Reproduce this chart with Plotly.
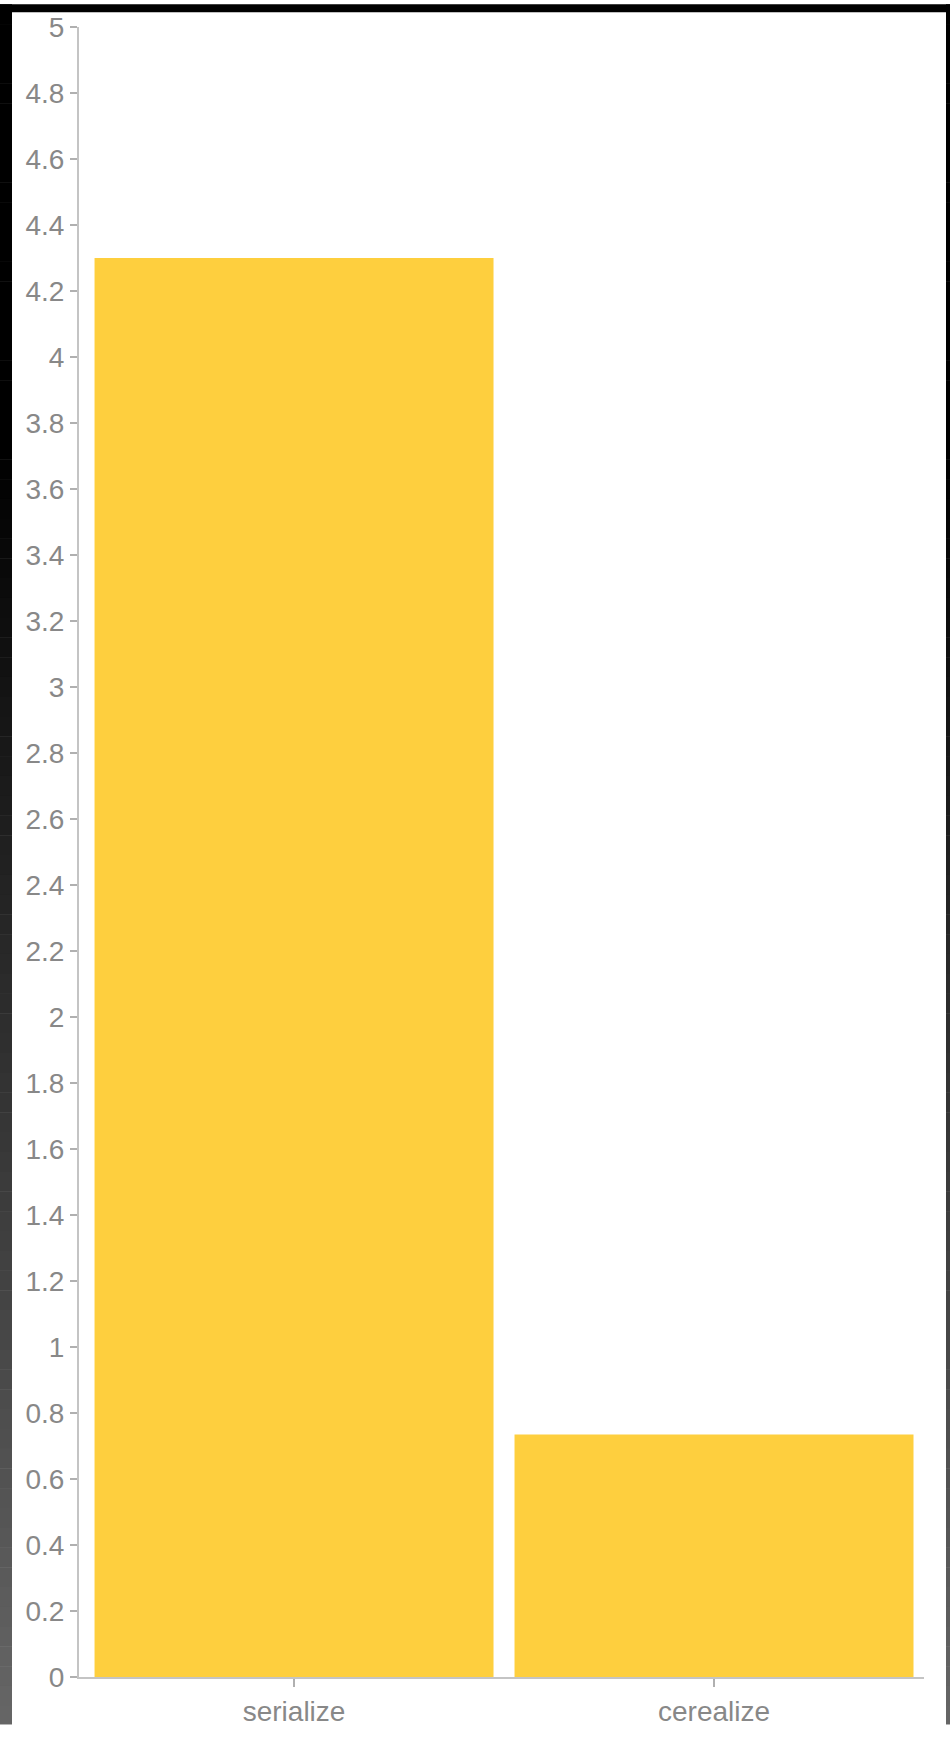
import plotly.graph_objects as go

categories = ["serialize", "cerealize"]
values = [4.3, 0.735]
tick_vals = [0, 0.2, 0.4, 0.6, 0.8, 1, 1.2, 1.4, 1.6, 1.8, 2, 2.2, 2.4, 2.6, 2.8,
             3, 3.2, 3.4, 3.6, 3.8, 4, 4.2, 4.4, 4.6, 4.8, 5]
tick_text = ["0", "0.2", "0.4", "0.6", "0.8", "1", "1.2", "1.4", "1.6", "1.8", "2",
             "2.2", "2.4", "2.6", "2.8", "3", "3.2", "3.4", "3.6", "3.8", "4", "4.2",
             "4.4", "4.6", "4.8", "5"]

W, H = 950, 1739
ML, MR, MT, MB = 79, 26, 23, 48
PW, PH = W - ML - MR, H - MT - MB

def px_x(px):
    return (px - ML) / PW

def px_y(py):
    return (H - MB - py) / PH

fig = go.Figure()
fig.add_trace(go.Bar(
    x=categories, y=values,
    marker=dict(color="#FECF3E", line=dict(width=0)),
    hoverinfo="x+y",
))

# dark frame around the white panel (decoration)
shapes = []
shapes.append(dict(type="rect", xref="paper", yref="paper",
                   x0=px_x(0), x1=px_x(W), y0=px_y(0), y1=px_y(8),
                   fillcolor="#000000", line=dict(width=0), layer="above"))
band = 20
y = 0
while y < H:
    yc = y + band / 2
    g = int(round(max(0.0, (yc - 450) / (H - 450)) * 102))
    col = "rgb(%d,%d,%d)" % (g, g, g)
    for xa, xb in [(0, 12), (946, W)]:
        shapes.append(dict(type="rect", xref="paper", yref="paper",
                           x0=px_x(xa), x1=px_x(xb), y0=px_y(y), y1=px_y(min(H, y + band + 0.5)),
                           fillcolor=col, line=dict(width=0), layer="above"))
    y += band

axis_font = dict(family="Liberation Sans, Arial, sans-serif", size=28, color="#888888")

fig.update_layout(
    width=W, height=H,
    margin=dict(l=ML, r=MR, t=MT, b=MB, pad=0),
    paper_bgcolor="white", plot_bgcolor="white",
    bargap=0.05,
    showlegend=False,
    shapes=shapes,
    xaxis=dict(
        type="category", range=[-0.512, 1.5],
        showline=True, linecolor="#c4c4c4", linewidth=2,
        ticks="outside", ticklen=8, tickwidth=1.5, tickcolor="#b0b0b0",
        showgrid=False, zeroline=False, tickfont=axis_font,
        fixedrange=True,
    ),
    yaxis=dict(
        range=[0, 5], tickvals=tick_vals, ticktext=tick_text,
        showline=True, linecolor="#c4c4c4", linewidth=2,
        ticks="outside", ticklen=7, tickwidth=1.5, tickcolor="#b0b0b0",
        showgrid=False, zeroline=False, tickfont=axis_font,
        fixedrange=True,
    ),
)

fig.write_html(
    "out.html",
    config={"displayModeBar": False},
    post_script="document.body.style.margin='0';document.body.style.overflow='hidden';",
)
